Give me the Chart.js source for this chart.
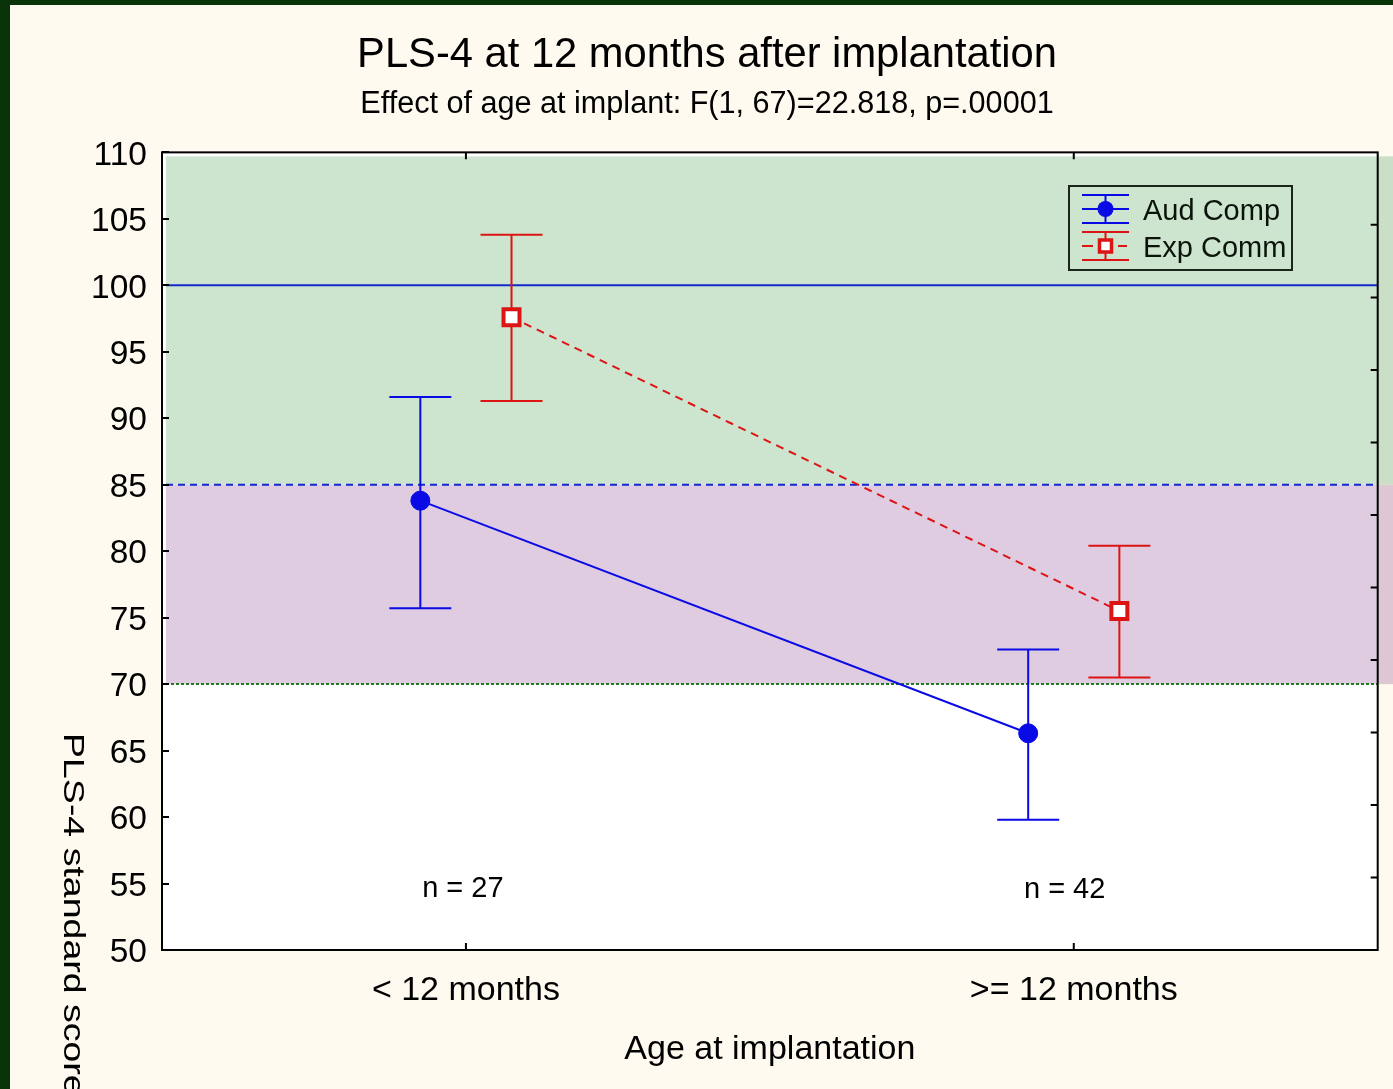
<!DOCTYPE html>
<html>
<head>
<meta charset="utf-8">
<script src="https://cdn.jsdelivr.net/npm/chart.js@4.4.1/dist/chart.umd.min.js"></script>
<style>
html,body{margin:0;padding:0;background:#FEFAEF;overflow:hidden;}
canvas{display:block;}
</style>
</head>
<body>
<canvas id="c" width="1393" height="1089"></canvas>
<script>
// ---- data ----
const categories = ['< 12 months', '>= 12 months'];
const seriesNames = ['Aud Comp', 'Exp Comm'];
const audMean = [83.8, 66.3];
const audLow  = [75.7, 59.8];
const audHigh = [91.6, 72.6];
const expMean = [97.6, 75.5];
const expLow  = [91.3, 70.5];
const expHigh = [103.8, 80.4];
const groupN = ['n = 27', 'n = 42'];
const nLabelY = [54.6, 54.5];
const yTickValues = [50, 55, 60, 65, 70, 75, 80, 85, 90, 95, 100, 105, 110];
const normalMean = 100;
const normalCut = 85;
const lowCut = 70;
const titleText = 'PLS-4 at 12 months after implantation';
const subtitleText = 'Effect of age at implant: F(1, 67)=22.818, p=.00001';
const xTitle = 'Age at implantation';
const yTitle = 'PLS-4 standard score';

// ---- styles ----
const FONT = '"Liberation Sans", Arial, Helvetica, sans-serif';
const BLUE = '#0A0AE6';
const RED = '#DC1414';
const DODGE = 0.075;
const CAP = 31;

const audData = audMean.map((v, i) => ({x: i - DODGE, y: v}));
const expData = expMean.map((v, i) => ({x: i + DODGE, y: v}));

const bgPlugin = {
  id: 'bg',
  beforeDraw(chart) {
    const {ctx, chartArea: a, scales: {y}} = chart;
    const W = chart.width, H = chart.height;
    ctx.save();
    ctx.fillStyle = '#FEFAEF';
    ctx.fillRect(0, 0, W, H);
    ctx.fillStyle = '#0B3309';
    ctx.fillRect(0, 0, W, 5);
    ctx.fillRect(0, 0, 10, H);
    // plot background
    ctx.fillStyle = '#FFFFFF';
    ctx.fillRect(a.left, a.top, a.right - a.left, a.bottom - a.top);
    const yTop = a.top + 4;
    const y85 = y.getPixelForValue(normalCut);
    const y70 = y.getPixelForValue(lowCut);
    // bands inside
    ctx.fillStyle = '#CDE4CF';
    ctx.fillRect(a.left + 4, yTop, a.right - a.left - 4, y85 - yTop);
    ctx.fillStyle = '#DFCCE0';
    ctx.fillRect(a.left + 4, y85, a.right - a.left - 4, y70 - y85);
    // bands outside right
    ctx.fillStyle = '#CBDFC6';
    ctx.fillRect(a.right, yTop, W - a.right, y85 - yTop);
    ctx.fillStyle = '#DCC7D2';
    ctx.fillRect(a.right, y85, W - a.right, y70 - y85);
    // reference lines
    const yl = y.getPixelForValue(normalMean);
    ctx.lineWidth = 2;
    ctx.strokeStyle = '#1428D2';
    ctx.beginPath(); ctx.moveTo(a.left + 4, yl); ctx.lineTo(a.right, yl); ctx.stroke();
    ctx.setLineDash([7, 5]);
    ctx.beginPath(); ctx.moveTo(a.left + 4, y85); ctx.lineTo(a.right, y85); ctx.stroke();
    ctx.strokeStyle = '#217A21';
    ctx.setLineDash([3, 2]);
    ctx.beginPath(); ctx.moveTo(a.left + 4, y70); ctx.lineTo(a.right, y70); ctx.stroke();
    ctx.restore();
  },
  beforeDatasetsDraw(chart) {
    const {ctx, scales: {x, y}} = chart;
    const sets = [[audLow, audHigh, -DODGE, BLUE], [expLow, expHigh, DODGE, RED]];
    ctx.save();
    ctx.lineWidth = 2;
    sets.forEach(([lo, hi, off, col]) => {
      ctx.strokeStyle = col;
      lo.forEach((l, i) => {
        const px = x.getPixelForValue(i + off);
        const pl = y.getPixelForValue(l), ph = y.getPixelForValue(hi[i]);
        ctx.beginPath();
        ctx.moveTo(px, pl); ctx.lineTo(px, ph);
        ctx.moveTo(px - CAP, pl); ctx.lineTo(px + CAP, pl);
        ctx.moveTo(px - CAP, ph); ctx.lineTo(px + CAP, ph);
        ctx.stroke();
      });
    });
    ctx.restore();
  },
  afterDraw(chart) {
    const {ctx, chartArea: a, scales: {x, y}} = chart;
    ctx.save();
    // frame
    ctx.strokeStyle = '#000000';
    ctx.lineWidth = 2;
    ctx.strokeRect(a.left, a.top, a.right - a.left, a.bottom - a.top);
    ctx.lineWidth = 2;
    ctx.beginPath();
    yTickValues.forEach(v => {
      const py = Math.round(y.getPixelForValue(v));
      ctx.moveTo(a.left, py); ctx.lineTo(a.left + 7, py);
    });
    for (let i = 1; i < 11; i++) {
      const py = a.bottom - (a.bottom - a.top) * i / 11;
      ctx.moveTo(a.right, py); ctx.lineTo(a.right - 7, py);
    }
    categories.forEach((c, i) => {
      const px = x.getPixelForValue(i);
      ctx.moveTo(px, a.bottom); ctx.lineTo(px, a.bottom - 7);
      ctx.moveTo(px, a.top); ctx.lineTo(px, a.top + 7);
    });
    ctx.stroke();
    // n labels
    ctx.fillStyle = '#000';
    ctx.font = '29px ' + FONT;
    ctx.textAlign = 'center';
    ctx.textBaseline = 'middle';
    groupN.forEach((t, i) => {
      ctx.fillText(t, x.getPixelForValue(i - 0.005 - i * 0.01), y.getPixelForValue(nLabelY[i]));
    });
    // y title (reads top to bottom)
    ctx.save();
    ctx.translate(64, 733);
    ctx.rotate(Math.PI / 2);
    ctx.scale(1.25, 1);
    ctx.font = '30px ' + FONT;
    ctx.textAlign = 'left';
    ctx.textBaseline = 'alphabetic';
    ctx.fillText(yTitle, 0, 0);
    ctx.restore();
    // legend
    const lx = 1069, ly = 186, lw = 223, lh = 84;
    ctx.fillStyle = '#CDE4CF';
    ctx.fillRect(lx, ly, lw, lh);
    ctx.strokeStyle = '#1A261A';
    ctx.lineWidth = 2;
    ctx.strokeRect(lx, ly, lw, lh);
    const sx0 = lx + 13, sx1 = lx + 60, sc = (sx0 + sx1) / 2;
    // Aud Comp symbol
    ctx.strokeStyle = BLUE; ctx.lineWidth = 2;
    ctx.beginPath();
    [195, 209, 223].forEach(yy => { ctx.moveTo(sx0, yy); ctx.lineTo(sx1, yy); });
    ctx.moveTo(sc, 195); ctx.lineTo(sc, 223);
    ctx.stroke();
    ctx.fillStyle = BLUE;
    ctx.beginPath(); ctx.arc(sc, 209, 8, 0, Math.PI * 2); ctx.fill();
    // Exp Comm symbol
    ctx.strokeStyle = RED;
    ctx.beginPath();
    ctx.moveTo(sx0, 232); ctx.lineTo(sx1, 232);
    ctx.moveTo(sx0, 260); ctx.lineTo(sx1, 260);
    ctx.moveTo(sx0, 246); ctx.lineTo(sx0 + 11, 246);
    ctx.moveTo(sx1 - 11, 246); ctx.lineTo(sx1 - 2, 246);
    ctx.moveTo(sc, 232); ctx.lineTo(sc, 260);
    ctx.stroke();
    ctx.fillStyle = '#FFFFFF';
    ctx.fillRect(sc - 6, 240, 12, 12);
    ctx.lineWidth = 3.5;
    ctx.strokeRect(sc - 6, 240, 12, 12);
    ctx.fillStyle = '#0A140A';
    ctx.font = '29px ' + FONT;
    ctx.textAlign = 'left';
    ctx.textBaseline = 'middle';
    ctx.fillText(seriesNames[0], lx + 74, 212);
    ctx.fillText(seriesNames[1], lx + 74, 249);
    ctx.restore();
  }
};

new Chart(document.getElementById('c'), {
  type: 'line',
  data: {
    datasets: [
      {
        label: seriesNames[0], data: audData,
        borderColor: BLUE, backgroundColor: BLUE, borderWidth: 2,
        pointStyle: 'circle', pointRadius: 9.5, pointBorderWidth: 1,
        pointBackgroundColor: BLUE, pointBorderColor: BLUE, tension: 0
      },
      {
        label: seriesNames[1], data: expData,
        borderColor: RED, backgroundColor: '#FFFFFF', borderWidth: 2, borderDash: [8, 6],
        pointStyle: 'rect', pointRadius: 11.3, pointBorderWidth: 4,
        pointBackgroundColor: '#FFFFFF', pointBorderColor: RED, tension: 0
      }
    ]
  },
  options: {
    responsive: false,
    animation: false,
    devicePixelRatio: 1,
    layout: {padding: {left: 36, right: 15, top: 0, bottom: 0}},
    plugins: {
      legend: {display: false},
      tooltip: {enabled: false},
      title: {
        display: true, text: titleText, color: '#000',
        font: {family: FONT, size: 41.7, weight: 'normal', lineHeight: 1.2},
        padding: {top: 30.3, bottom: 0}
      },
      subtitle: {
        display: true, text: subtitleText, color: '#000',
        font: {family: FONT, size: 30.6, weight: 'normal', lineHeight: 1.2},
        padding: {top: 5.7, bottom: 29.6}
      }
    },
    scales: {
      x: {
        type: 'linear', min: -0.5, max: 1.5,
        afterBuildTicks: s => { s.ticks = categories.map((c, i) => ({value: i})); },
        afterFit: s => { s.height = 139; },
        grid: {display: false, drawTicks: false},
        border: {display: false},
        ticks: {
          color: '#000', padding: 20, maxRotation: 0, autoSkip: false,
          font: {family: FONT, size: 34},
          callback: v => categories[v]
        },
        title: {
          display: true, text: xTitle, color: '#000',
          font: {family: FONT, size: 34},
          padding: {top: 0, bottom: 19}
        }
      },
      y: {
        type: 'linear', min: 50, max: 110,
        afterBuildTicks: s => { s.ticks = yTickValues.map(v => ({value: v})); },
        afterFit: s => { s.width = 126; },
        grid: {display: false, drawTicks: false},
        border: {display: false},
        ticks: {
          color: '#000', padding: 15, labelOffset: 3,
          font: {family: FONT, size: 33.5}
        }
      }
    }
  },
  plugins: [bgPlugin]
});
</script>
</body>
</html>
